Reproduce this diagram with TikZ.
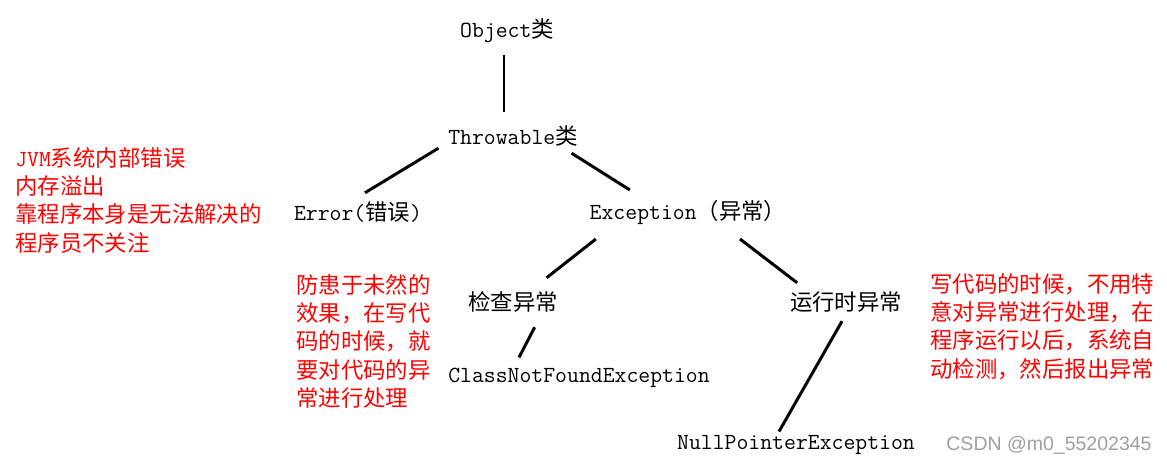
\documentclass[tikz,border=0pt]{standalone}
\usepackage{fontspec}
\setmainfont{Latin Modern Mono}[Scale=1.03]
\newfontfamily\zhfont{Noto Sans CJK SC}
\newfontfamily\wmfont{Liberation Sans}
\newcommand{\zh}[1]{{\zhfont #1}}
\usetikzlibrary{positioning}

\tikzset{
  cls/.style={inner sep=2pt, font=\fontsize{12.75pt}{16pt}\selectfont},
  note/.style={text=red, align=left, anchor=north west, inner sep=0pt,
    font=\fontsize{12.75pt}{16.1pt}\selectfont\zhfont},
  link/.style={line width=1.7pt},
}

\begin{document}
\begin{tikzpicture}[x=0.02cm,y=-0.02cm]
\useasboundingbox (0,0) rectangle (1167,464);

% class tree
\node[cls] (obj) at (507,31) {Object\zh{类}};
\node[cls] (thr) at (513,136) {Throwable\zh{类}};
\node[cls] (err) at (358,212) {Error(\zh{错误})};
\node[cls] (exc) at (688,212) {Exception\zh{（异常）}};
\node[cls] (chk) at (513,302) {\zh{检查异常}};
\node[cls] (rt) at (846,302) {\zh{运行时异常}};
\node[cls] (cnf) at (579,378) {ClassNotFoundException};
\node[cls] (npe) at (796,445) {NullPointerException};

% notes
\node[note] (errnote) at (15,147) {{\rmfamily JVM}系统内部错误\\内存溢出\\靠程序本身是无法解决的\\程序员不关注};
\node[note] (chknote) at (296,274) {防患于未然的\\效果，在写代\\码的时候，就\\要对代码的异\\常进行处理};
\node[note] (rtnote) at (930,273) {写代码的时候，不用特\\意对异常进行处理，在\\程序运行以后，系统自\\动检测，然后报出异常};

\node[text=gray!75, font=\fontsize{11.1pt}{13pt}\selectfont\wmfont] (wm) at (1049,445) {CSDN @m0\_55202345};

\draw[link] ([shift={(-3,8)}]obj.south) -- ([shift={(-9,-10)}]thr.north);
\draw[link] ([shift={(-6,-2)}]thr.south west) -- ([shift={(7,-5)}]err.north);
\draw[link] ([shift={(-10,3)}]thr.south east) -- ([shift={(44,-6)}]exc.north west);
\draw[link] ([shift={(10,11)}]exc.south west) -- ([shift={(-15,-10)}]chk.north east);
\draw[link] ([shift={(52,11)}]exc.south) -- ([shift={(11,-5)}]rt.north west);
\draw[link] ([shift={(-27,11)}]chk.south east) -- ([shift={(-60,-7)}]cnf.north);
\draw[link] ([shift={(-4,5)}]rt.south) -- ([shift={(-17,0)}]npe.north);
\end{tikzpicture}
\end{document}
